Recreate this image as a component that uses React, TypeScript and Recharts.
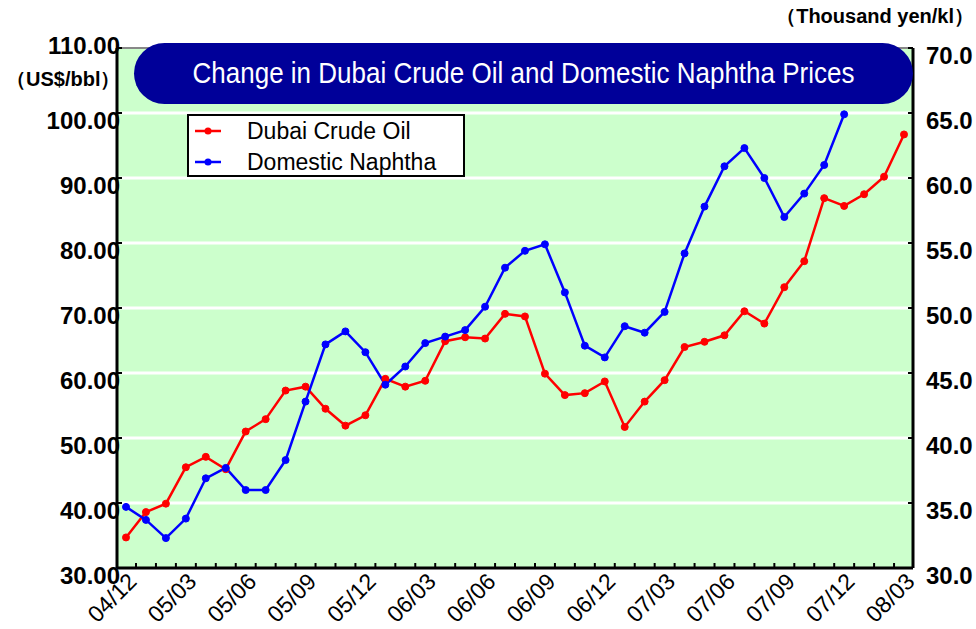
import { CartesianGrid, Legend, Line, LineChart, ReferenceLine, XAxis, YAxis } from 'recharts';

const MONTHS = [
  '04/12',
  '05/01', '05/02', '05/03', '05/04', '05/05', '05/06', '05/07', '05/08', '05/09', '05/10', '05/11', '05/12',
  '06/01', '06/02', '06/03', '06/04', '06/05', '06/06', '06/07', '06/08', '06/09', '06/10', '06/11', '06/12',
  '07/01', '07/02', '07/03', '07/04', '07/05', '07/06', '07/07', '07/08', '07/09', '07/10', '07/11', '07/12',
  '08/01', '08/02', '08/03',
];

// US$/bbl, left axis
const DUBAI_CRUDE = [
  34.7, 38.6, 39.9, 45.5, 47.1, 45.2, 51.0, 52.9, 57.3, 57.9, 54.5, 51.9, 53.5,
  59.1, 57.9, 58.8, 64.9, 65.5, 65.3, 69.1, 68.7, 59.9, 56.6, 56.9, 58.7,
  51.7, 55.6, 58.9, 64.0, 64.8, 65.8, 69.5, 67.6, 73.2, 77.2, 86.9, 85.7,
  87.5, 90.2, 96.7,
];

// thousand yen/kl, right axis (no data after 07/12)
const NAPHTHA = [
  34.7, 33.7, 32.3, 33.8, 36.9, 37.7, 36.0, 36.0, 38.3, 42.8, 47.2, 48.2, 46.6,
  44.1, 45.5, 47.3, 47.8, 48.3, 50.1, 53.1, 54.4, 54.9, 51.2, 47.1, 46.2,
  48.6, 48.1, 49.7, 54.2, 57.8, 60.9, 62.3, 60.0, 57.0, 58.8, 61.0, 64.9,
  null, null, null,
];

const LEFT_TICKS = [30, 40, 50, 60, 70, 80, 90, 100, 110];
const RIGHT_TICKS = [30, 35, 40, 45, 50, 55, 60, 65, 70];
const GRID_VALUES = [40, 50, 60, 70, 80, 90, 100];

const data = MONTHS.map((month, i) => ({
  month,
  dubai: DUBAI_CRUDE[i],
  naphtha: NAPHTHA[i],
}));

const FONT = 'Arial, "Liberation Sans", sans-serif';
const PLOT_LEFT = 117;
const PLOT_RIGHT = 913;
const PLOT_BOTTOM = 568;

const MonthTick = (props: any) => {
  const { x, payload, index } = props;
  const showLabel = index % 3 === 0;
  const px = x + 12;
  const py = PLOT_BOTTOM + 15;
  return (
    <g>
      {index < MONTHS.length - 1 && (
        <line x1={x + 10} x2={x + 10} y1={PLOT_BOTTOM - 5} y2={PLOT_BOTTOM} stroke="#000" strokeWidth={2} />
      )}
      {showLabel && (
        <text
          x={px}
          y={py}
          textAnchor="end"
          transform={`rotate(-45, ${px}, ${py})`}
          fontFamily={FONT}
          fontSize={23}
          fill="#000"
        >
          {payload.value}
        </text>
      )}
    </g>
  );
};

const LeftTick = (props: any) => {
  const { y, payload } = props;
  const dy = payload.value === 110 ? -3 : 7;
  return (
    <g>
      <line x1={PLOT_LEFT} x2={PLOT_LEFT + 5} y1={y} y2={y} stroke="#000" strokeWidth={2} />
      <text
        x={PLOT_LEFT + 3}
        y={y + dy}
        textAnchor="end"
        dominantBaseline="central"
        fontFamily={FONT}
        fontWeight="bold"
        fontSize={24}
        fill="#000"
      >
        {payload.value.toFixed(2)}
      </text>
    </g>
  );
};

const RightTick = (props: any) => {
  const { y, payload } = props;
  return (
    <g>
      <line x1={PLOT_RIGHT - 5} x2={PLOT_RIGHT} y1={y} y2={y} stroke="#000" strokeWidth={2} />
      <text
        x={926}
        y={y + 7}
        textAnchor="start"
        dominantBaseline="central"
        fontFamily={FONT}
        fontWeight="bold"
        fontSize={24}
        fill="#000"
      >
        {payload.value.toFixed(1)}
      </text>
    </g>
  );
};

const LegendBox = () => {
  const rows = [
    { name: 'Dubai Crude Oil', color: '#FF0000' },
    { name: 'Domestic Naphtha', color: '#0000FF' },
  ];
  return (
    <div
      style={{
        width: 274,
        height: 59,
        border: '2px solid #000',
        background: '#fff',
        fontFamily: FONT,
        fontSize: 23,
        color: '#000',
      }}
    >
      {rows.map((row, i) => (
        <div key={row.name} style={{ position: 'absolute', left: 8, top: 2 + i * 31, height: 30, display: 'flex', alignItems: 'center' }}>
          <svg width={26} height={10} style={{ display: 'block' }}>
            <line x1={0} x2={26} y1={5} y2={5} stroke={row.color} strokeWidth={2.5} />
            <circle cx={13} cy={5} r={3.5} fill={row.color} />
          </svg>
          <span style={{ marginLeft: 26, lineHeight: '30px' }}>{row.name}</span>
        </div>
      ))}
    </div>
  );
};

export default function App() {
  return (
    <div style={{ position: 'absolute', left: 0, top: 0, width: 976, height: 629, background: '#fff' }}>
      <LineChart width={976} height={629} data={data} margin={{ top: 48, right: 0, bottom: 0, left: 0 }}>
        <CartesianGrid
          yAxisId="left"
          vertical={false}
          horizontalValues={GRID_VALUES}
          stroke="#FFFFFF"
          strokeWidth={3}
          fill="#CCFFCC"
          fillOpacity={1}
        />
        <ReferenceLine yAxisId="left" y={110} stroke="#888888" strokeWidth={2} />
        <XAxis
          dataKey="month"
          interval={0}
          height={61}
          padding={{ left: 9, right: 9 }}
          tickLine={false}
          axisLine={{ stroke: '#000', strokeWidth: 3 }}
          tick={<MonthTick />}
        />
        <YAxis
          yAxisId="left"
          domain={[30, 110]}
          ticks={LEFT_TICKS}
          width={117}
          tickLine={false}
          axisLine={{ stroke: '#000', strokeWidth: 3 }}
          tick={<LeftTick />}
        />
        <YAxis
          yAxisId="right"
          orientation="right"
          domain={[30, 70]}
          ticks={RIGHT_TICKS}
          width={63}
          tickLine={false}
          axisLine={{ stroke: '#000', strokeWidth: 3 }}
          tick={<RightTick />}
        />
        <Legend
          layout="horizontal"
          verticalAlign="middle"
          align="center"
          wrapperStyle={{ position: 'absolute', left: 187, top: 114, width: 278, height: 63 }}
          content={<LegendBox />}
        />
        <Line
          yAxisId="left"
          dataKey="dubai"
          name="Dubai Crude Oil"
          stroke="#FF0000"
          strokeWidth={2.5}
          dot={{ r: 3.5, fill: '#FF0000', stroke: '#FF0000', strokeWidth: 1 }}
          isAnimationActive={false}
        />
        <Line
          yAxisId="right"
          dataKey="naphtha"
          name="Domestic Naphtha"
          stroke="#0000FF"
          strokeWidth={2.5}
          dot={{ r: 3.5, fill: '#0000FF', stroke: '#0000FF', strokeWidth: 1 }}
          isAnimationActive={false}
        />
      </LineChart>

      <div
        style={{
          position: 'absolute',
          left: 134,
          top: 43,
          width: 779,
          height: 61,
          borderRadius: 31,
          background: '#000099',
          color: '#fff',
          fontFamily: FONT,
          fontSize: 26,
          display: 'flex',
          alignItems: 'center',
          justifyContent: 'center',
        }}
      >
        <span style={{ display: 'inline-block', transform: 'scaleY(1.1)' }}>
          Change in Dubai Crude Oil and Domestic Naphtha Prices
        </span>
      </div>
      <div
        style={{
          position: 'absolute',
          left: 6,
          top: 66,
          fontFamily: FONT,
          fontWeight: 'bold',
          fontSize: 20,
          color: '#000',
          whiteSpace: 'nowrap',
        }}
      >
        （US$/bbl）
      </div>
      <div
        style={{
          position: 'absolute',
          right: 2,
          top: 3,
          fontFamily: FONT,
          fontWeight: 'bold',
          fontSize: 20,
          color: '#000',
          whiteSpace: 'nowrap',
        }}
      >
        （Thousand yen/kl）
      </div>
    </div>
  );
}
